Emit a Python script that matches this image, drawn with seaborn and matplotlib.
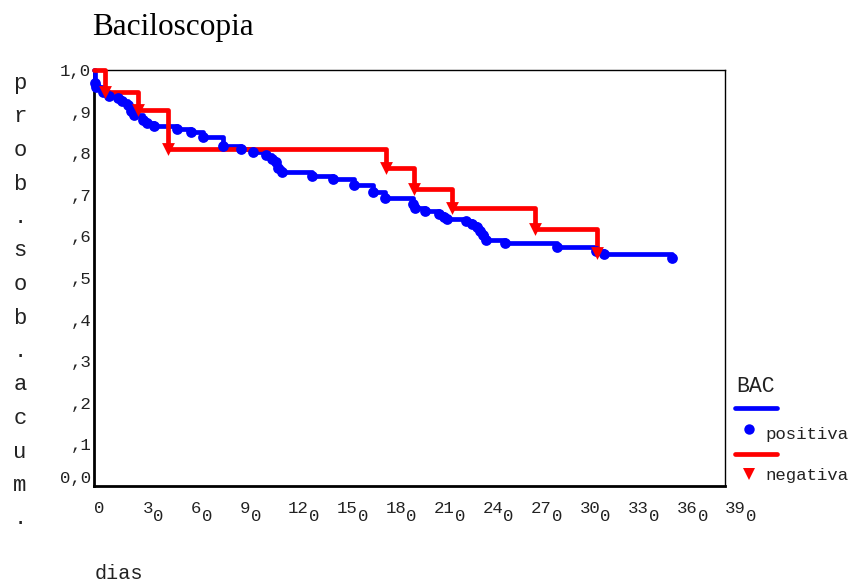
import matplotlib
matplotlib.use("Agg")
import matplotlib.pyplot as plt
from matplotlib.lines import Line2D
import seaborn as sns
import pandas as pd

# ---------------- data ----------------
pos_time = [0, 0.5, 1.5, 5.5, 9, 15, 17, 21, 23, 25, 30, 32.5, 37, 51.5, 60, 67.5,
            80, 91, 98, 106.5, 110, 112.5, 114, 116, 135, 148, 161, 172.5, 180,
            197, 198.5, 204.5, 213.5, 216.5, 218, 230, 233.5, 236.5, 238.5, 240.5,
            242.5, 254, 286, 310, 315, 357]
pos_surv = [1.0, 0.968, 0.958, 0.946, 0.938, 0.932, 0.925, 0.917, 0.902, 0.892, 0.880,
            0.872, 0.866, 0.858, 0.850, 0.838, 0.818, 0.810, 0.802, 0.795, 0.787, 0.778,
            0.764, 0.755, 0.746, 0.738, 0.723, 0.706, 0.692, 0.678, 0.668, 0.660, 0.655,
            0.647, 0.643, 0.636, 0.631, 0.622, 0.612, 0.603, 0.592, 0.584, 0.574, 0.564,
            0.557, 0.548]
neg_time = [0, 6.6, 27.2, 45.7, 180.5, 197.8, 221, 272.5, 311]
neg_surv = [1.0, 0.948, 0.904, 0.809, 0.764, 0.714, 0.668, 0.618, 0.560]

xtick_vals = [0, 30, 60, 90, 120, 150, 180, 210, 240, 270, 300, 330, 360, 390]
xtick_main = ["0", "3", "6", "9", "12", "15", "18", "21", "24", "27", "30", "33", "36", "39"]
xtick_sub = ["", "0", "0", "0", "0", "0", "0", "0", "0", "0", "0", "0", "0", "0"]
ytick_vals = [0.0, 0.1, 0.2, 0.3, 0.4, 0.5, 0.6, 0.7, 0.8, 0.9, 1.0]
ytick_labels = ["0,0", ",1", ",2", ",3", ",4", ",5", ",6", ",7", ",8", ",9", "1,0"]
title = "Baciloscopia"
ylabel_text = "prob.sob.acum."
xlabel_text = "dias"
legend_title = "BAC"
groups = ["positiva", "negativa"]

pos_df = pd.DataFrame({"t": pos_time, "s": pos_surv})
neg_df = pd.DataFrame({"t": neg_time, "s": neg_surv})

# ---------------- style ----------------
sns.set_style("white")
MONO = ["Liberation Mono", "DejaVu Sans Mono"]
plt.rcParams["font.family"] = MONO

W, H = 849, 583
fig = plt.figure(figsize=(W / 100, H / 100), dpi=100)
ax = fig.add_axes([94 / W, 1 - 486 / H, 631 / W, 416 / H])

BLUE = "#0000ff"
RED = "#ff0000"

sns.lineplot(data=pos_df, x="t", y="s", drawstyle="steps-post", color=BLUE,
             linewidth=3.4, estimator=None, sort=False, ax=ax, legend=False,
             clip_on=False, zorder=3)
sns.lineplot(data=neg_df, x="t", y="s", drawstyle="steps-post", color=RED,
             linewidth=3.4, estimator=None, sort=False, ax=ax, legend=False,
             clip_on=False, zorder=4)
sns.scatterplot(data=pos_df.iloc[1:], x="t", y="s", color=BLUE, marker="o", s=60,
                linewidth=0, ax=ax, legend=False, clip_on=False, zorder=5)
sns.scatterplot(data=neg_df.iloc[1:], x="t", y="s", color=RED, marker="v", s=85,
                linewidth=0, ax=ax, legend=False, clip_on=False, zorder=6)

ax.set_xlim(0, 390)
ax.set_ylim(0, 1.0)
ax.set_xlabel("")
ax.set_ylabel("")

for side in ["left", "bottom"]:
    ax.spines[side].set_linewidth(2.0)
    ax.spines[side].set_color("black")
for side in ["top", "right"]:
    ax.spines[side].set_linewidth(1.0)
    ax.spines[side].set_color("black")
    ax.spines[side].set_visible(True)

ax.set_yticks(ytick_vals)
ax.set_yticklabels(ytick_labels, fontsize=12.5, family=MONO, color="#222222")
ax.tick_params(axis="y", direction="inout", length=7, width=2.2, pad=-1.5, color="black")
ax.get_yticklabels()[0].set_verticalalignment("bottom")

ax.set_xticks(xtick_vals)
ax.set_xticklabels([""] * len(xtick_vals))
ax.tick_params(axis="x", direction="out", length=3, width=2.4, color="black")

px = 0.72  # points per pixel
for v, m, sub in zip(xtick_vals, xtick_main, xtick_sub):
    ax.annotate(m, xy=(v, 0), xycoords=("data", "axes fraction"),
                xytext=(0, -27 * px), textcoords="offset points",
                ha="left", va="baseline", fontsize=12.5, family=MONO, color="#222222",
                annotation_clip=False)
    if sub:
        ax.annotate(sub, xy=(v, 0), xycoords=("data", "axes fraction"),
                    xytext=(len(m) * 10.2 * px + 0.5, -35 * px), textcoords="offset points",
                    ha="left", va="baseline", fontsize=12.5, family=MONO, color="#222222",
                    annotation_clip=False)

# title
fig.text(92 / W, 1 - 35 / H, title, family=["Liberation Serif", "DejaVu Serif"],
         fontsize=22.5, ha="left", va="baseline", color="black")

# vertical y label, one letter per line
for i, ch in enumerate(ylabel_text):
    fig.text(20 / W, 1 - (89 + 33.5 * i) / H, ch, family=MONO, fontsize=16,
             ha="center", va="baseline", color="#222222")

# x label
fig.text(95 / W, 1 - 579 / H, xlabel_text, family=MONO, fontsize=14.5,
         ha="left", va="baseline", color="#222222")

# legend
fig.text(736 / W, 1 - 392 / H, legend_title, family=MONO, fontsize=15.5,
         ha="left", va="baseline", color="#222222")
fig.add_artist(Line2D([735 / W, 777 / W], [1 - 408 / H, 1 - 408 / H],
                      transform=fig.transFigure, color=BLUE, linewidth=3.4))
fig.add_artist(Line2D([749 / W], [1 - 429 / H], transform=fig.transFigure,
                      color=BLUE, marker="o", markersize=7.5, linestyle="none",
                      markeredgewidth=0))
fig.text(765 / W, 1 - 439 / H, groups[0], family=MONO, fontsize=12.5,
         ha="left", va="baseline", color="#222222")
fig.add_artist(Line2D([735 / W, 777 / W], [1 - 454 / H, 1 - 454 / H],
                      transform=fig.transFigure, color=RED, linewidth=3.4))
fig.add_artist(Line2D([749 / W], [1 - 474 / H], transform=fig.transFigure,
                      color=RED, marker="v", markersize=9, linestyle="none",
                      markeredgewidth=0))
fig.text(765 / W, 1 - 480 / H, groups[1], family=MONO, fontsize=12.5,
         ha="left", va="baseline", color="#222222")

fig.savefig("out.png", dpi=100, facecolor="white")
